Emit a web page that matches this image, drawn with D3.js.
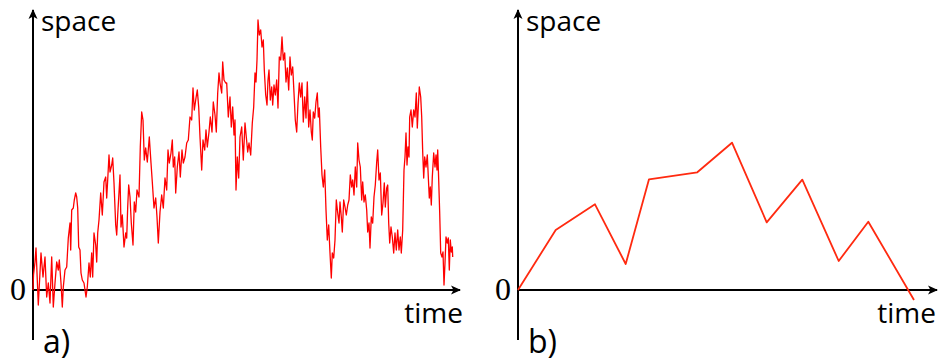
<!DOCTYPE html>
<html>
<head>
<meta charset="utf-8">
<script src="https://cdn.jsdelivr.net/npm/d3@7"></script>
<style>
  body { margin: 0; background: #fff; }
  svg { display: block; }
  .lbl { font-family: 'Open Sans', sans-serif; fill: #000; }
  .zero { font-family: 'Liberation Serif', serif; font-size: 32px; fill: #000; }
</style>
</head>
<body>
<svg id="chart" width="938" height="362"></svg>
<script>
// panel a) : random walk (time, space)
var timeA = [0,0.5,2,3,5.3,8,10,12,13.7,15.3,17,18.7,20.3,22,23.7,25.3,26.3,28,29.3,30.3,32,33.7,35.3,37,37.7,38.7,40.3,41.3,42.7,43.7,44.7,45.7,47,48,49.3,51,52,53,54.3,56,57.3,58.7,59.7,61,62.7,63.7,64.7,66,
  67.7,69.3,71,72.7,73.7,74.7,76,77,78.7,79.7,81,82.7,83.7,84.7,87,88,89.3,91,92.7,93.7,94.7,95.7,97,98.3,100,101.3,102.7,104,106,107.3,108.7,110,111.3,112.7,114.3,116.3,118,119.3,121,122.7,124,125.3,127,
  128.7,130.3,132,133.7,135,136.3,138,139.3,140.3,141.7,142.7,144.3,146,147.3,149,150.3,152,153.7,155.3,157,158.7,160,161.3,163,164.3,165.7,167,168.7,170,171.7,173,174.3,176,177.3,179,180.3,182,183.3,184.7,186,187,188.7,189.7,191,192.7,
  193.7,195.3,197,198.3,199.7,201,202,203,204.3,205.7,207,208.7,210.3,212,213.3,214.7,216,217.7,219.3,220.7,222,223,224,225,226.3,227.7,229,230.3,231.3,232.7,234,235,236,237.3,238.7,239.7,241,242.3,243.7,245,246.3,247.7,249,250.3,251.7,253,254.3,255.7,
  257,258.3,259.7,261,262.3,263.7,265,266.3,267.7,269,270.3,271.7,273,274.3,275.7,277,278.3,279.3,280.3,281.7,283,284.3,285.3,286.3,287.7,289,290.3,291.7,293,294.3,295.7,297,298.3,299.3,300.7,302,303.3,304.7,306,307,308.3,309.3,310.7,312,313.3,314.7,316,317.3,318.7,319.7,321,
  322.3,323.7,324.7,326,327.3,328.7,329.7,331,332.3,333.7,334.7,336,337,338.3,339.7,341,342.3,343.7,344.7,346,347.3,348.7,350,351.3,352.3,353.7,354.7,355.7,356.7,358,359.3,360.7,362,363.3,364.7,366,367.3,368.3,369.7,371,372,373,
  374,375,376,376.7,378,379.3,380.7,382,383.3,384.3,385.3,386.3,387.7,388.7,389.7,390.7,391.7,393,394.3,395.3,396.3,397.3,398.3,399.3,400.7,402,403,404,404.7,405.7,406.7,407.7,409,410,411,412,413,414.3,415.3,416.3,417.3,418.3,419.3,419.7];
var spaceA = [0,15,28,42,-15,37,13,33,-7,7,-13,33,-17,7,28,20,30,7,-17,3,20,23,52,67,40,80,82,90,97,93,82,43,40,17,10,7,0,-7,3,27,13,37,13,57,45,28,57,70,
  97,75,108,113,92,110,135,118,125,132,107,65,55,75,115,63,75,43,57,52,83,105,93,67,45,88,78,100,93,143,178,170,130,142,128,153,127,108,82,92,73,47,78,
  95,82,112,100,140,127,137,150,123,133,97,123,138,113,140,127,133,147,150,173,170,202,180,192,200,183,153,120,150,140,160,143,158,173,158,188,175,158,197,217,207,197,228,210,207,
  207,173,193,163,183,155,170,100,133,112,153,163,130,167,153,138,147,135,167,183,217,208,230,270,255,260,243,250,220,195,185,210,220,190,203,185,205,195,210,182,233,230,253,230,237,208,222,200,
  233,215,223,197,170,158,187,207,193,207,168,193,172,208,163,180,158,150,178,172,188,197,173,182,143,115,103,120,80,50,65,37,12,37,32,50,90,77,67,88,73,58,90,83,75,85,90,115,103,110,95,
  123,103,147,130,123,90,108,88,95,80,58,67,42,73,67,93,105,128,140,110,117,75,87,107,83,102,105,67,47,63,53,37,57,40,60,40,53,37,60,120,133,157,
  125,143,133,173,180,163,180,173,197,162,183,203,193,173,138,112,133,123,135,113,92,103,85,113,137,123,135,120,140,110,77,37,33,38,5,27,53,47,52,20,50,38,43,33];

// panel b) : coarse walk (time, space)
var timeB = [0, 37.7, 77, 107.7, 131, 179.3, 214, 248.7, 284.3, 320.7, 350.3, 396];
var spaceB = [0, 60, 85.7, 26, 110.7, 117.7, 147.3, 67.7, 110.3, 29, 68.3, -10];

var panels = [
  { id: 'a', time: timeA, space: spaceA, left: 33, right: 460, tmax: 427, color: '#ff0000', width: 1.3, label: 'a)', timeEnd: 463 },
  { id: 'b', time: timeB, space: spaceB, left: 518, right: 937, tmax: 419, color: '#ff2a10', width: 1.8, label: 'b)', timeEnd: 936 }
];

var svg = d3.select('#chart');

svg.append('defs').append('marker')
    .attr('id', 'arrow')
    .attr('viewBox', '0 -5 10 10')
    .attr('refX', 9)
    .attr('refY', 0)
    .attr('markerUnits', 'userSpaceOnUse')
    .attr('markerWidth', 10)
    .attr('markerHeight', 10)
    .attr('orient', 'auto')
  .append('path')
    .attr('d', 'M0,-4.5L10,0L0,4.5L2.5,0Z')
    .attr('fill', '#000');

var y = d3.scaleLinear().domain([-50, 280]).range([340, 10]);

panels.forEach(function(p) {
    var x = d3.scaleLinear().domain([0, p.tmax]).range([p.left, p.right]);
    var g = svg.append('g').attr('class', 'panel-' + p.id);

    // y axis
    g.append('line')
        .attr('x1', x(0)).attr('x2', x(0))
        .attr('y1', y(-50)).attr('y2', y(280))
        .attr('stroke', '#000').attr('stroke-width', 2)
        .attr('marker-end', 'url(#arrow)');

    // x axis
    g.append('line')
        .attr('x1', x(0)).attr('x2', x(p.tmax))
        .attr('y1', y(0)).attr('y2', y(0))
        .attr('stroke', '#000').attr('stroke-width', 2)
        .attr('marker-end', 'url(#arrow)');

    var line = d3.line()
        .x(function(d, i) { return x(p.time[i]); })
        .y(function(d) { return y(d); });

    g.append('path')
        .datum(p.space)
        .attr('d', line)
        .attr('fill', 'none')
        .attr('stroke', p.color)
        .attr('stroke-width', p.width)
        .attr('stroke-linejoin', 'round');

    g.append('text')
        .attr('class', 'zero')
        .attr('x', x(0) - 7)
        .attr('y', y(0) + 10)
        .attr('text-anchor', 'end')
        .text('0');

    g.append('text')
        .attr('class', 'lbl')
        .attr('x', x(0) + 8)
        .attr('y', 31)
        .style('font-size', '28px')
        .text('space');

    g.append('text')
        .attr('class', 'lbl')
        .attr('x', p.timeEnd)
        .attr('y', 323)
        .attr('text-anchor', 'end')
        .style('font-size', '28px')
        .text('time');

    g.append('text')
        .attr('class', 'lbl')
        .attr('x', x(0) + 10)
        .attr('y', 353)
        .style('font-size', '32px')
        .text(p.label);
});
</script>
</body>
</html>
